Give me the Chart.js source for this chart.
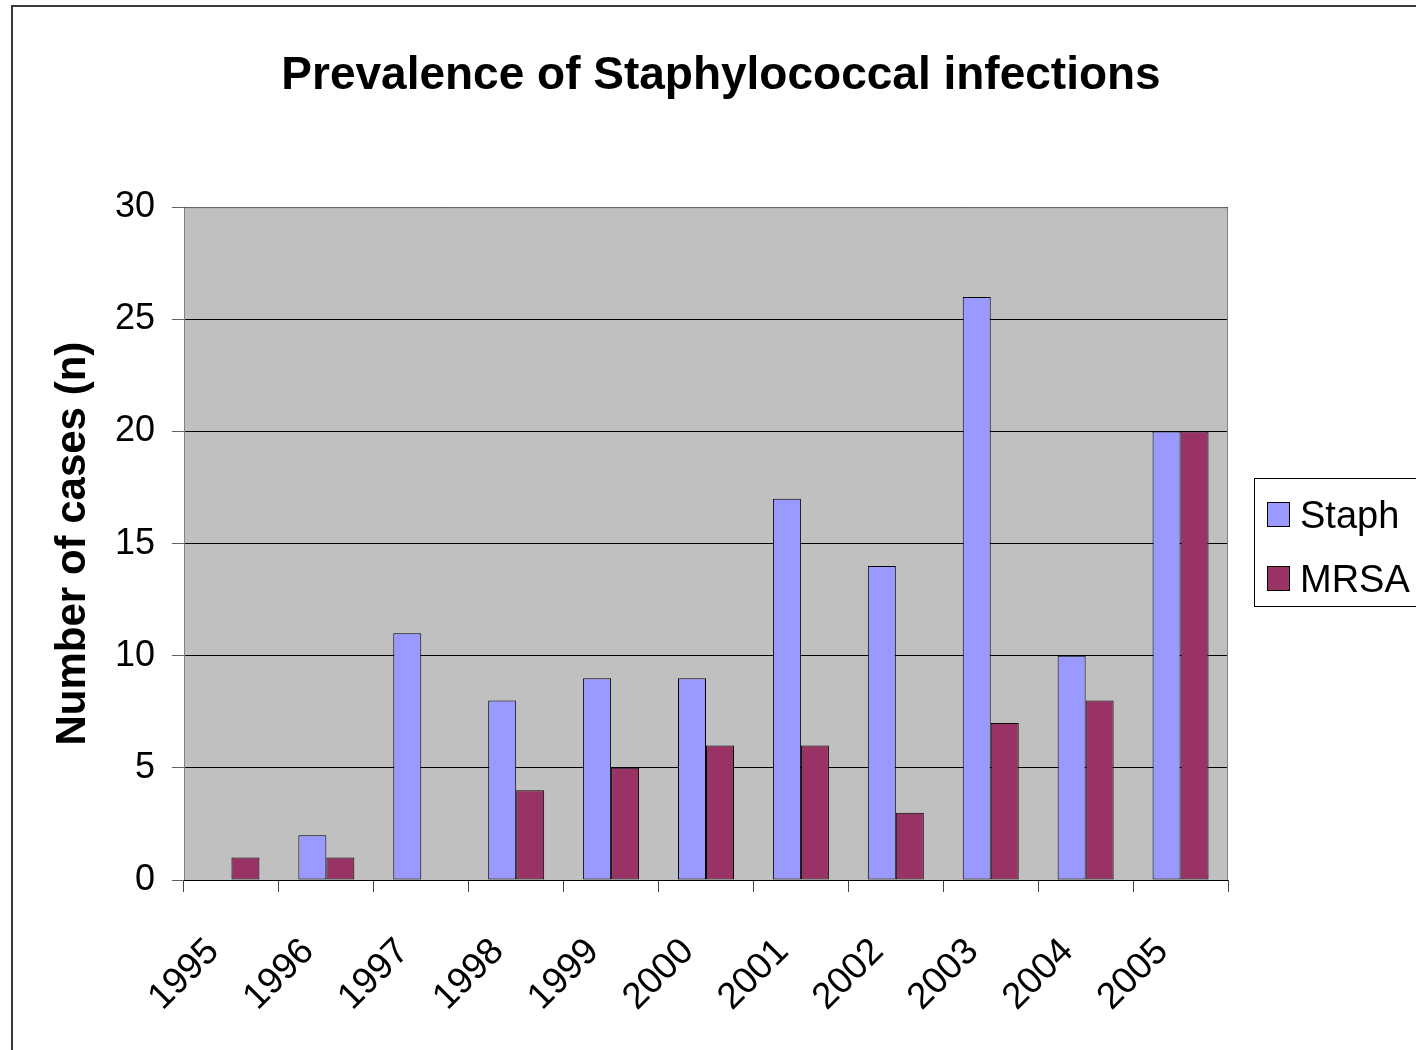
<!DOCTYPE html>
<html>
<head>
<meta charset="utf-8">
<script src="https://cdn.jsdelivr.net/npm/chart.js@4.4.1/dist/chart.umd.min.js"></script>
<style>
	html, body { margin: 0; padding: 0; background: #fff; overflow: hidden; width: 1416px; height: 1050px; }
	#frame {
		position: absolute; left: 11px; top: 5px;
		width: 1416px; height: 1080px;
		border-left: 2px solid #3a3a3a; border-top: 2px solid #3a3a3a;
	}
	#chart { display: block; }
</style>
</head>
<body>
<div id="frame"><canvas id="chart" width="1416" height="1080"></canvas></div>
<script>
// == Prevalence of Staphylococcal infections ==
const years = ['1995', '1996', '1997', '1998', '1999', '2000', '2001', '2002', '2003', '2004', '2005'];
const staph = [0, 2, 11, 8, 9, 9, 17, 14, 26, 10, 20];
const mrsa = [1, 1, 0, 4, 5, 6, 6, 3, 7, 8, 20];
const yTicks = [0, 5, 10, 15, 20, 25, 30];

const FONT = '"Liberation Sans", Arial, sans-serif';

// grey plot area like the old spreadsheet default
const plotBackground = {
	id: 'plotBackground',
	beforeDraw(chart) {
		const {ctx, chartArea: a} = chart;
		ctx.save();
		ctx.fillStyle = '#c0c0c0';
		ctx.fillRect(a.left, a.top, a.right - a.left, a.bottom - a.top);
		ctx.restore();
	},
	afterDatasetsDraw(chart) {
		const {ctx, chartArea: a} = chart;
		ctx.save();
		ctx.lineWidth = 1;
		ctx.strokeStyle = '#808080';
		ctx.beginPath();
		ctx.moveTo(a.left + 0.5, a.bottom);
		ctx.lineTo(a.left + 0.5, a.top + 0.5);
		ctx.lineTo(a.right - 0.5, a.top + 0.5);
		ctx.lineTo(a.right - 0.5, a.bottom);
		ctx.stroke();
		ctx.strokeStyle = '#000';
		ctx.beginPath();
		ctx.moveTo(a.left, a.bottom + 0.5);
		ctx.lineTo(a.right, a.bottom + 0.5);
		ctx.stroke();
		ctx.restore();
	}
};

// boxed legend on the right, partly cut off by the window edge
const boxedLegend = {
	id: 'boxedLegend',
	afterDraw(chart) {
		const ctx = chart.ctx;
		const x0 = chart.chartArea.right + 26;
		ctx.save();
		ctx.lineWidth = 1;
		ctx.strokeStyle = '#000';
		ctx.strokeRect(x0 + 0.5, 471.5, 300, 128);
		ctx.font = '38px ' + FONT;
		ctx.textBaseline = 'alphabetic';
		const rows = [495, 559];
		chart.data.datasets.forEach(function(ds, i) {
			ctx.fillStyle = ds.backgroundColor;
			ctx.fillRect(x0 + 13, rows[i], 22, 24);
			ctx.strokeRect(x0 + 13.5, rows[i] + 0.5, 22, 24);
			ctx.fillStyle = '#000';
			ctx.fillText(ds.label, x0 + 46, rows[i] + 26);
		});
		ctx.restore();
	}
};

const chart = new Chart(document.getElementById('chart').getContext('2d'), {
	type: 'bar',
	data: {
		labels: years,
		datasets: [
			{
				label: 'Staph',
				data: staph,
				backgroundColor: '#9999ff',
				borderColor: '#000',
				borderWidth: 1,
				borderSkipped: false
			},
			{
				label: 'MRSA',
				data: mrsa,
				backgroundColor: '#993366',
				borderColor: '#000',
				borderWidth: 1,
				borderSkipped: false
			}
		]
	},
	options: {
		responsive: false,
		animation: false,
		devicePixelRatio: 1,
		layout: { padding: 0 },
		datasets: { bar: { categoryPercentage: 0.59, barPercentage: 1 } },
		plugins: {
			legend: { display: false },
			tooltip: { enabled: false },
			title: {
				display: true,
				text: 'Prevalence of Staphylococcal infections',
				color: '#000',
				font: { family: FONT, size: 46, weight: 'bold', lineHeight: 1.2 },
				padding: { top: 42, bottom: 103 }
			}
		},
		scales: {
			x: {
				grid: {
					offset: true,
					drawOnChartArea: false,
					drawTicks: true,
					tickLength: 12,
					color: '#404040'
				},
				border: { display: false },
				ticks: {
					color: '#000',
					font: { family: FONT, size: 37 },
					minRotation: 45,
					maxRotation: 45,
					autoSkip: false,
					labelOffset: -18,
					padding: 38
				},
				afterFit(scale) { scale.height = 207; }
			},
			y: {
				min: 0,
				max: 30,
				afterBuildTicks(scale) { scale.ticks = yTicks.map(function(v) { return {value: v}; }); },
				grid: {
					color: '#000',
					tickColor: '#606060',
					tickLength: 12
				},
				border: { display: false },
				ticks: {
					color: '#000',
					font: { family: FONT, size: 36 },
					padding: 17
				},
				title: {
					display: true,
					text: 'Number of cases (n)',
					color: '#000',
					font: { family: FONT, size: 42, weight: 'bold', lineHeight: 1.2 },
					padding: { top: 35, bottom: 0 }
				},
				afterFit(scale) { scale.width = 171; }
			},
			// empty axis that only keeps room on the right for the legend box
			legendRoom: {
				type: 'linear',
				position: 'right',
				display: true,
				grid: { display: false },
				border: { display: false },
				ticks: { display: false },
				afterFit(scale) { scale.width = 201; }
			}
		}
	},
	plugins: [plotBackground, boxedLegend]
});
</script>
</body>
</html>
